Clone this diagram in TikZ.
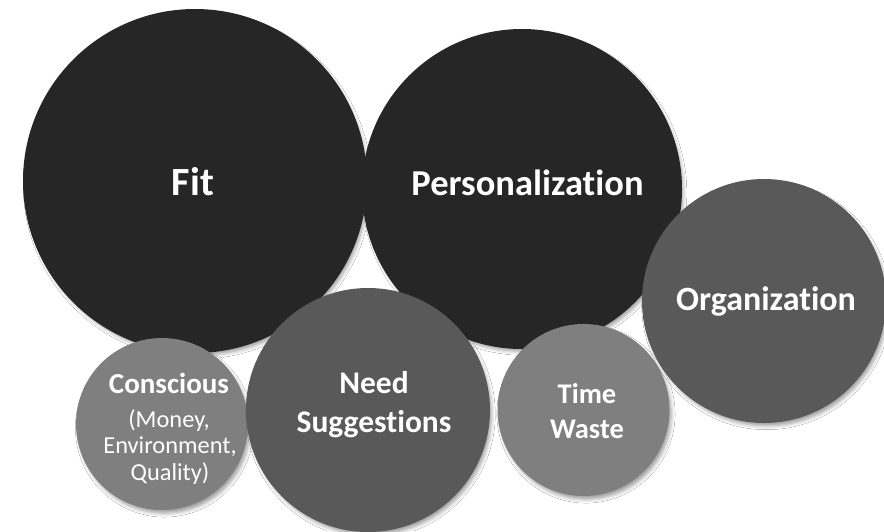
\documentclass[tikz,border=0pt]{standalone}
\usepackage{fontspec}
\setmainfont[Ligatures=NoCommon]{Carlito}
\usetikzlibrary{shadows.blur}
\definecolor{darkdisc}{HTML}{262626}
\definecolor{middisc}{HTML}{595959}
\definecolor{lightdisc}{HTML}{7F7F7F}
\begin{document}
\begin{tikzpicture}[x=1pt,y=-1pt,
  disc/.style={circle, draw=none, inner sep=0pt, minimum size=#1,
    blur shadow={shadow xshift=2.5pt, shadow yshift=-4pt,
      shadow blur radius=4pt, shadow opacity=40, shadow scale=0.99}},
  lbl/.style={anchor=base, text=white, inner sep=0pt},
  bigtxt/.style={lbl, font=\fontsize{#1}{#1}\selectfont\bfseries},
  smalltxt/.style={lbl, font=\fontsize{24.4}{24.4}\selectfont}]
  % canvas
  \fill[white] (0,0) rectangle (884,531);
  \useasboundingbox (0,0) rectangle (884,531);

  % discs, back to front
  \node[disc=344pt, fill=darkdisc] (fit) at (195,181) {};
  \node[disc=320pt, fill=darkdisc] (pers) at (522,189) {};
  \node[disc=244pt, fill=middisc] (org) at (764,301) {};
  \node[disc=172pt, fill=lightdisc] (consc) at (162,424) {};
  \node[disc=244pt, fill=middisc] (need) at (368,410) {};
  \node[disc=172pt, fill=lightdisc] (time) at (583.5,410) {};

  % labels
  \node[bigtxt=40] (fitA) at (193,195) {Fit};
  \node[bigtxt=36.5] (persA) at (527.5,195) {Personalization};
  \node[bigtxt=34] (orgA) at (766,310) {Organization};
  \node[bigtxt=31.5] (needA) at (374,393) {Need};
  \node[bigtxt=31.5] (needB) at (374,432) {Suggestions};
  \node[bigtxt=28.5] (timeA) at (587,403) {Time};
  \node[bigtxt=28.5] (timeB) at (587,438) {Waste};
  \node[bigtxt=29] (conscA) at (169,393) {Conscious};
  \node[smalltxt] (conscB) at (169,427) {(Money,};
  \node[smalltxt] (conscC) at (170,453) {Environment,};
  \node[smalltxt] (conscD) at (170,480) {Quality)};
\end{tikzpicture}
\end{document}
